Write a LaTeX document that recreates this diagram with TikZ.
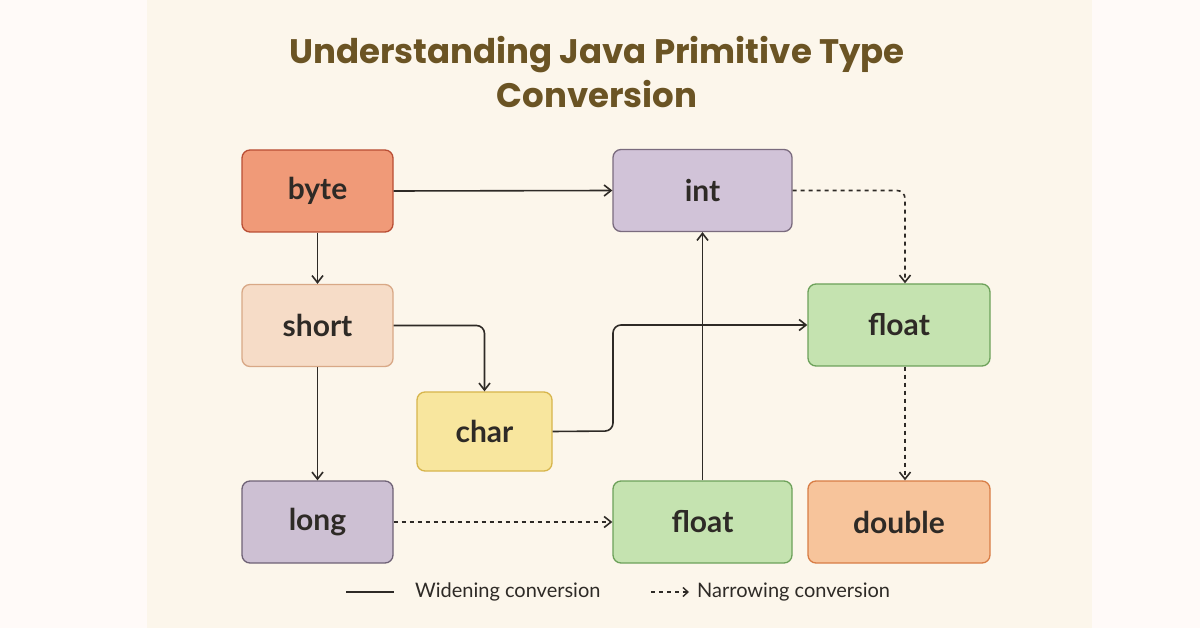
\documentclass[tikz,border=0pt]{standalone}
\usepackage{fontspec}
\setmainfont{Lato}
\newfontfamily\titlefont{Poppins}
\usetikzlibrary{arrows.meta}
\definecolor{bgpanel}{HTML}{FCF6EB}
\definecolor{bgout}{HTML}{FFFAF8}
\definecolor{titlec}{HTML}{6B5424}
\definecolor{linec}{HTML}{2E2A26}
\definecolor{byteF}{HTML}{F09A78}\definecolor{byteD}{HTML}{B94E34}
\definecolor{intF}{HTML}{D1C3D8}\definecolor{intD}{HTML}{7A6B7E}
\definecolor{shortF}{HTML}{F6DCC7}\definecolor{shortD}{HTML}{D8A886}
\definecolor{floatF}{HTML}{C5E3B0}\definecolor{floatD}{HTML}{6DA15A}
\definecolor{charF}{HTML}{F8E69E}\definecolor{charD}{HTML}{D7B54C}
\definecolor{longF}{HTML}{CDC0D3}\definecolor{longD}{HTML}{6F6276}
\definecolor{doubleF}{HTML}{F7C49B}\definecolor{doubleD}{HTML}{D87D45}
\tikzset{
 tbox/.style={draw, line width=1.3pt, rounded corners=8pt, minimum width=#1, minimum height=82pt, font=\fontsize{30}{34}\selectfont\bfseries, text=linec, inner sep=0pt},
 wide/.style={draw=linec, line width=1.6pt, -{Straight Barb[length=7pt,width=11pt]}, rounded corners=8pt},
 narrow/.style={wide, dashed, dash pattern=on 4pt off 4pt},
}
\begin{document}
\begin{tikzpicture}[x=1pt,y=-1pt]
\fill[bgout] (0,0) rectangle (1200,628);
\fill[bgpanel] (147,0) rectangle (1092,628);
\useasboundingbox (0,0) rectangle (1200,628);
\node[font=\titlefont\fontsize{34}{44}\selectfont\bfseries, text=titlec, align=center] (title) at (597,72) {Understanding Java Primitive Type\\Conversion};
\node[tbox=151pt, fill=byteF, draw=byteD] (byte) at (317.5,191) {byte};
\node[tbox=179pt, fill=intF, draw=intD] (int) at (702.5,190.5) {int};
\node[tbox=151pt, fill=shortF, draw=shortD] (short) at (317.5,325.5) {short};
\node[tbox=182pt, fill=floatF, draw=floatD] (float1) at (899,325) {float};
\node[tbox=135pt, minimum height=79pt, fill=charF, draw=charD] (char) at (484.5,431.5) {char};
\node[tbox=151pt, fill=longF, draw=longD] (long) at (317.5,522) {long};
\node[tbox=179pt, fill=floatF, draw=floatD] (float2) at (702.5,522) {float};
\node[tbox=182pt, fill=doubleF, draw=doubleD] (double) at (899,522) {double};
\draw[wide] (byte.east) -- (int.west);
\draw[narrow] (int.east) -| (float1.north -| 905,0);
\draw[wide] (byte.south) -- (short.north);
\draw[wide] (short.east) -| (char.north);
\draw[wide] (char.east) -- (613,431) -- (613,325) -- (float1.west);
\draw[wide] (short.south) -- (long.north);
\draw[narrow] (long.east) -- (float2.west);
\draw[wide] (float2.north) -- (int.south);
\draw[narrow] (float1.south -| 905,0) -- (double.north -| 905,0);
\coordinate (l1) at (346,592);
\coordinate (l2) at (394,592);
\draw[draw=linec, line width=1.6pt] (l1) -- (l2);
\node[anchor=west, font=\fontsize{20}{24}\selectfont, text=linec, inner sep=0pt] (wt) at (415,592) {Widening conversion};
\coordinate (l3) at (651,592);
\coordinate (l4) at (689,592);
\draw[draw=linec, line width=1.4pt, dashed, dash pattern=on 4pt off 4pt, -{Straight Barb[length=5pt,width=9pt]}] (l3) -- (l4);
\node[anchor=west, font=\fontsize{20}{24}\selectfont, text=linec, inner sep=0pt] (nt) at (697,592) {Narrowing conversion};
\end{tikzpicture}
\end{document}
